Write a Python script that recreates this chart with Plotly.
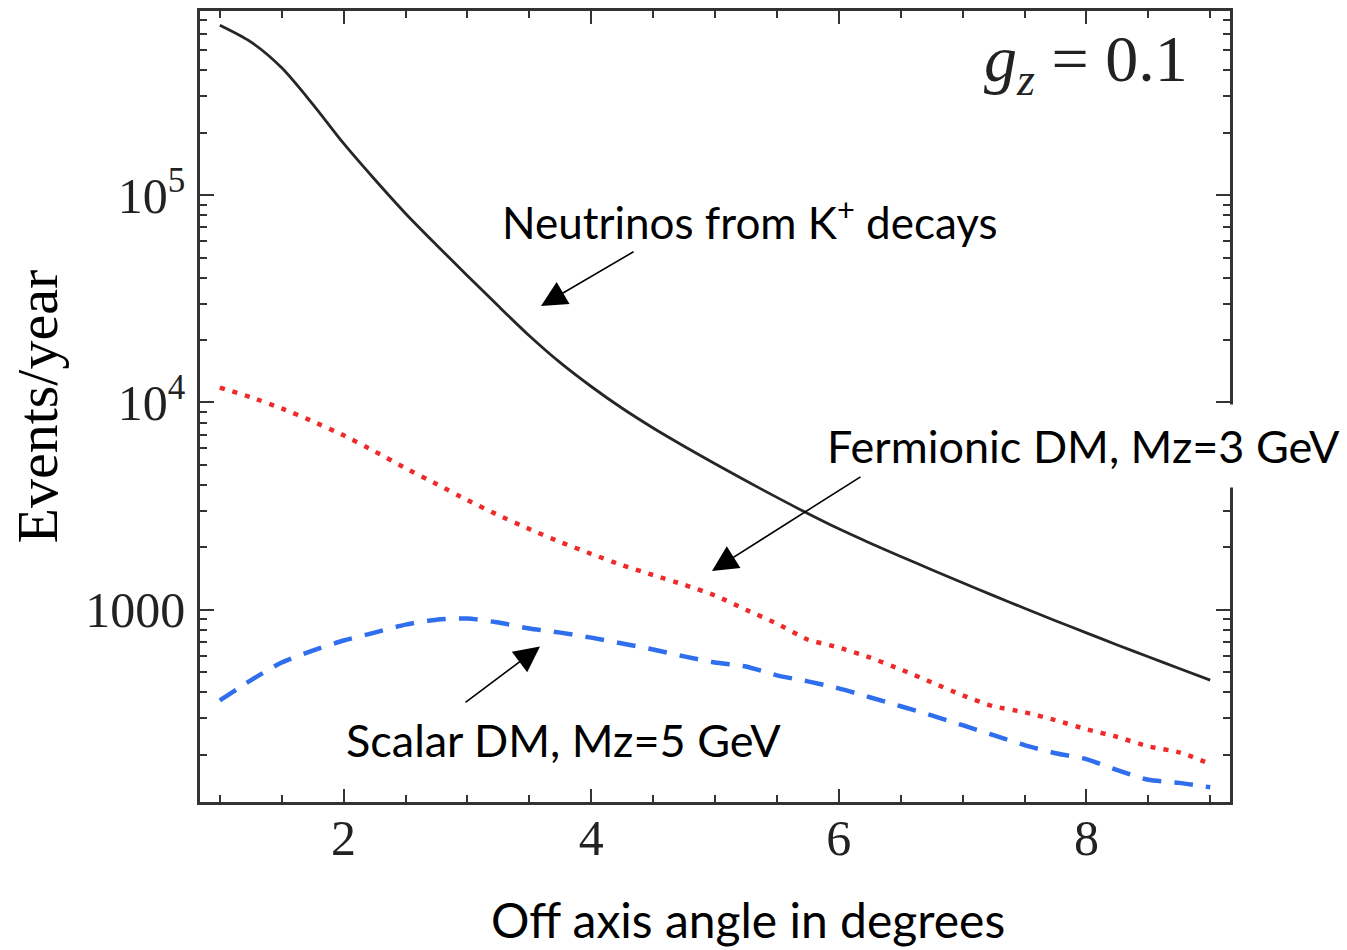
import plotly.graph_objects as go

# Off-axis angle (degrees)
angle = [1.0, 1.25, 1.5, 1.75, 2.0, 2.25, 2.5, 2.75, 3.0, 3.25, 3.5, 3.75, 4.0, 4.25, 4.5, 4.75,
         5.0, 5.25, 5.5, 5.75, 6.0, 6.25, 6.5, 6.75, 7.0, 7.25, 7.5, 7.75, 8.0, 8.25, 8.5, 8.75, 9.0]

# Events/year
neutrinos_kplus = [661000, 549500, 412100, 275400, 177800, 119400, 81660, 57540, 40930, 29170,
                   20990, 15560, 11940, 9376, 7534, 6152, 5058, 4188, 3483, 2911, 2455, 2099,
                   1807, 1560, 1349, 1169, 1016, 885, 773, 676, 593, 520, 457]
fermionic_dm = [11800, 10600, 9360, 8110, 6940, 5810, 4820, 4040, 3380, 2860, 2450, 2120,
                1860, 1640, 1470, 1320, 1170, 1000, 857, 718, 657, 588, 515, 446, 386, 342,
                320, 293, 265, 243, 219, 205, 180]
scalar_dm = [365, 456, 556, 635, 710, 775, 847, 895, 906, 867, 811, 775, 733, 687, 643, 595,
             556, 532, 482, 451, 417, 378, 342, 309, 277, 248, 222, 203, 190, 168, 151, 146, 139]

x_tickvals = [2, 4, 6, 8]
y_tickvals = [1000, 10000, 100000]
y_ticktext = ["1000", "10<sup>4</sup>", "10<sup>5</sup>"]

y_minor = [m * 10 ** e for e in range(2, 6) for m in range(2, 10)]

SERIF = "Liberation Serif, Times New Roman, serif"
SANS = "Lato, Open Sans, sans-serif"
FRAME = "#333333"

fig = go.Figure()
fig.add_trace(go.Scatter(x=angle, y=neutrinos_kplus, mode="lines",
                         line=dict(color="#262626", width=2.8, shape="spline", smoothing=0.8),
                         showlegend=False))
fig.add_trace(go.Scatter(x=angle, y=fermionic_dm, mode="lines",
                         line=dict(color="#ee2a2a", width=4.5, dash="5px,8px",
                                   shape="spline", smoothing=0.6),
                         showlegend=False))
fig.add_trace(go.Scatter(x=angle, y=scalar_dm, mode="lines",
                         line=dict(color="#2f6fee", width=4.5, dash="19px,13px",
                                   shape="spline", smoothing=0.6),
                         showlegend=False))

W, H = 1347, 950
L, R, T, B = 200, 117, 8, 148
pw, ph = W - L - R, H - T - B


def px(xp):
    return (xp - L) / pw


def py(yp):
    return (H - B - yp) / ph


annotations = [
    dict(text="Neutrinos from K<sup>+</sup> decays", x=px(750), y=py(217),
         font=dict(family=SANS, size=44, color="black")),
    dict(text="Fermionic DM, Mz=3 GeV", x=px(1083), y=py(445),
         font=dict(family=SANS, size=45, color="black"), bgcolor="white", borderpad=14),
    dict(text="Scalar DM, Mz=5 GeV", x=px(563), y=py(740),
         font=dict(family=SANS, size=45, color="black")),
    dict(text="<i>g</i><sub><i>z</i></sub> = 0.1", x=px(1086), y=py(61),
         font=dict(family=SERIF, size=66, color="#222222")),
    dict(text="Events/year", x=px(37), y=py(405), textangle=-90,
         font=dict(family=SERIF, size=58, color="black")),
    dict(text="Off axis angle in degrees", x=px(748), y=py(920),
         font=dict(family=SANS, size=48, color="black")),
]
for a in annotations:
    a.update(xref="paper", yref="paper", showarrow=False, xanchor="center", yanchor="middle")

arrows = [((541, 304), (635, 249)), ((712, 570), (862, 475)), ((540, 646), (464, 703))]
for (hx, hy), (tx, ty) in arrows:
    annotations.append(dict(x=px(hx), y=py(hy), xref="paper", yref="paper", text="",
                            showarrow=True, ax=tx - hx, ay=ty - hy, arrowhead=2,
                            arrowsize=3.2, arrowwidth=1.6, arrowcolor="black", standoff=0))

fig.update_layout(
    width=W, height=H,
    margin=dict(l=L, r=R, t=T, b=B),
    paper_bgcolor="white", plot_bgcolor="white",
    annotations=annotations,
    xaxis=dict(range=[0.84, 9.16], tickmode="array", tickvals=x_tickvals,
               ticks="inside", ticklen=13, tickwidth=2, tickcolor=FRAME,
               showline=True, linecolor=FRAME, linewidth=2.5, mirror="ticks",
               showgrid=False, zeroline=False,
               tickfont=dict(family=SERIF, size=50, color="#222222"),
               ticklabelstandoff=-10,
               minor=dict(tickmode="linear", tick0=0, dtick=0.5, ticks="inside",
                          ticklen=7, tickwidth=2, tickcolor=FRAME, showgrid=False)),
    yaxis=dict(type="log", range=[2.072, 5.889], tickmode="array",
               tickvals=y_tickvals, ticktext=y_ticktext,
               ticks="inside", ticklen=14, tickwidth=2, tickcolor=FRAME,
               showline=True, linecolor=FRAME, linewidth=2.5, mirror="ticks",
               showgrid=False, zeroline=False,
               tickfont=dict(family=SERIF, size=50, color="#222222"),
               ticklabelstandoff=2,
               minor=dict(tickmode="array", tickvals=y_minor, ticks="inside",
                          ticklen=7, tickwidth=2, tickcolor=FRAME, showgrid=False)),
)

fig.write_html("out.html")
